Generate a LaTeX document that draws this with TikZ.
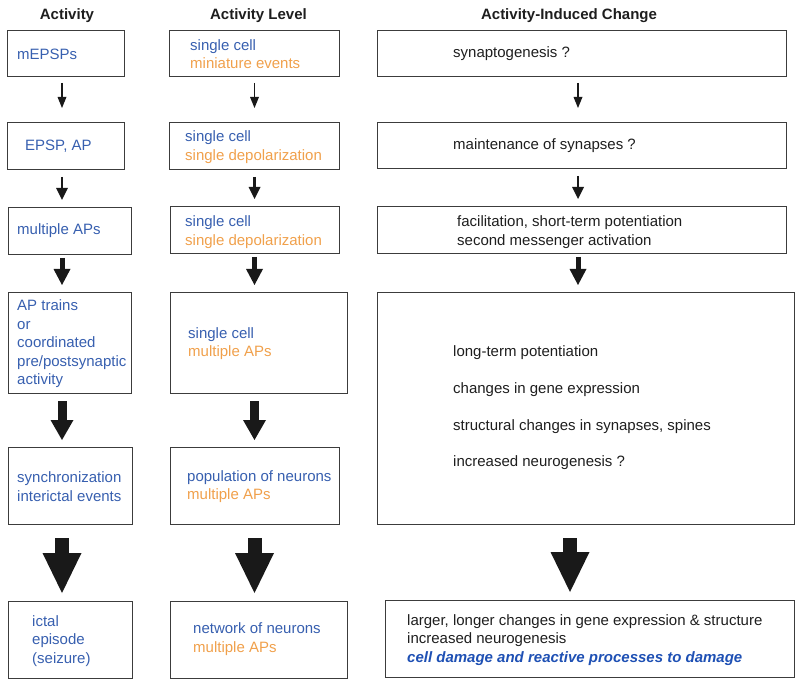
\documentclass[tikz,border=0pt]{standalone}
\usepackage{fontspec}
\setmainfont{Liberation Sans}
\usetikzlibrary{arrows.meta,calc}
\definecolor{tblue}{RGB}{55,95,175}
\definecolor{torange}{RGB}{240,160,75}
\definecolor{dblue}{RGB}{30,80,180}
\definecolor{bord}{RGB}{60,60,60}
\definecolor{ink}{RGB}{30,30,30}
\definecolor{arr}{RGB}{25,25,25}
\begin{document}
\begin{tikzpicture}[x=1pt,y=-1pt,
  box/.style={draw=bord,line width=1pt,inner sep=0pt,outer sep=0pt},
  txt/.style={anchor=west,align=left,inner sep=0pt,font=\fontsize{15}{18.5}\selectfont},
  hdr/.style={anchor=base,inner sep=0pt,font=\fontsize{15}{18}\selectfont\bfseries,text=ink},
  lvA/.style={draw=arr,line width=1.2pt,-{Triangle[width=9pt,length=11pt,line width=0pt]},shorten <=6pt,shorten >=15pt},
  lvB/.style={draw=arr,line width=2.5pt,-{Triangle[width=12pt,length=12pt,line width=0pt]},shorten <=7pt,shorten >=8pt},
  lvC/.style={draw=arr,line width=5pt,-{Triangle[width=17pt,length=16pt,line width=0pt]},shorten <=3pt,shorten >=8pt},
  lvD/.style={draw=arr,line width=9pt,-{Triangle[width=23pt,length=20pt,line width=0pt]},shorten <=8pt,shorten >=7pt},
  lvE/.style={draw=arr,line width=14pt,-{Triangle[width=39pt,length=40pt,line width=0pt]},shorten <=14pt,shorten >=8pt}
]
\useasboundingbox (0,0) rectangle (800,684);

% headers
\node[hdr] (h1) at (67,20) {Activity};
\node[hdr] (h2) at (258.5,20) {Activity Level};
\node[hdr] (h3) at (569,20) {Activity-Induced Change};

% column 1 boxes
\node[box,minimum width=117,minimum height=46] (a1) at (65.5,54) {};
\node[box,minimum width=117,minimum height=47] (a2) at (65.5,146.5) {};
\node[box,minimum width=123,minimum height=47] (a3) at (69.5,231.5) {};
\node[box,minimum width=123,minimum height=100] (a4) at (69.5,343) {};
\node[box,minimum width=124,minimum height=77] (a5) at (70,485.5) {};
\node[box,minimum width=124,minimum height=77] (a6) at (70,639.5) {};

% column 2 boxes
\node[box,minimum width=170,minimum height=46] (b1) at (254,54) {};
\node[box,minimum width=170,minimum height=47] (b2) at (254,146.5) {};
\node[box,minimum width=169,minimum height=47] (b3) at (254.5,230.5) {};
\node[box,minimum width=177,minimum height=100] (b4) at (258.5,343) {};
\node[box,minimum width=169,minimum height=77] (b5) at (254.5,485.5) {};
\node[box,minimum width=177,minimum height=77] (b6) at (258.5,639.5) {};

% column 3 boxes
\node[box,minimum width=409,minimum height=46] (c1) at (581.5,54) {};
\node[box,minimum width=409,minimum height=46] (c2) at (581.5,146) {};
\node[box,minimum width=409,minimum height=47] (c3) at (581.5,230.5) {};
\node[box,minimum width=417,minimum height=231] (c4) at (585.5,408.5) {};
\node[box,minimum width=409,minimum height=77] (c5) at (589.5,638.5) {};

% texts column 1
\node[txt,text=tblue] (ta1) at (17,54) {mEPSPs};
\node[txt,text=tblue] (ta2) at (25,146) {EPSP, AP};
\node[txt,text=tblue] (ta3) at (17,231) {multiple APs};
\node[txt,text=tblue] (ta4) at (17,344) {AP trains\\or\\coordinated\\pre/postsynaptic\\activity};
\node[txt,text=tblue] (ta5) at (17,486.5) {synchronization\\interictal events};
\node[txt,text=tblue] (ta6) at (32,641) {ictal\\episode\\(seizure)};

% texts column 2
\node[txt,text=tblue] (tb1) at (190,54) {single cell\\\textcolor{torange}{miniature events}};
\node[txt,text=tblue] (tb2) at (185,147) {single cell\\\textcolor{torange}{single depolarization}};
\node[txt,text=tblue] (tb3) at (185,232) {single cell\\\textcolor{torange}{single depolarization}};
\node[txt,text=tblue] (tb4) at (188,343.5) {single cell\\\textcolor{torange}{multiple APs}};
\node[txt,text=tblue] (tb5) at (187,486.5) {population of neurons\\\textcolor{torange}{multiple APs}};
\node[txt,text=tblue] (tb6) at (193,639) {network of neurons\\\textcolor{torange}{multiple APs}};

% texts column 3
\node[txt,text=ink] (tc1) at (453,54) {synaptogenesis ?};
\node[txt,text=ink] (tc2) at (453,146) {maintenance of synapses ?};
\node[txt,text=ink] (tc3) at (457,232) {facilitation, short-term potentiation\\second messenger activation};
\node[txt,text=ink,font=\fontsize{15}{36.7}\selectfont] (tc4) at (453,408) {long-term potentiation\\changes in gene expression\\structural changes in synapses, spines\\increased neurogenesis ?};
\node[txt,text=ink] (tc5) at (407,640) {larger, longer changes in gene expression \& structure\\increased neurogenesis\\{\color{dblue}\bfseries\itshape cell damage and reactive processes to damage}};

% arrow axes
\coordinate (x1) at (62,0);
\coordinate (x2) at (254.5,0);
\coordinate (x3) at (578,0);
\coordinate (x3b) at (570,0);

% column 1 arrows
\draw[lvA] (a1.south -| x1) -- (a2.north -| x1);
\draw[lvB] (a2.south -| x1) -- (a3.north -| x1);
\draw[lvC] (a3.south -| x1) -- (a4.north -| x1);
\draw[lvD] (a4.south -| x1) -- (a5.north -| x1);
\draw[lvE] (a5.south -| x1) -- (a6.north -| x1);

% column 2 arrows
\draw[lvA] (b1.south -| x2) -- (b2.north -| x2);
\draw[lvB] (b2.south -| x2) -- (b3.north -| x2);
\draw[lvC] (b3.south -| x2) -- (b4.north -| x2);
\draw[lvD] (b4.south -| x2) -- (b5.north -| x2);
\draw[lvE] (b5.south -| x2) -- (b6.north -| x2);

% column 3 arrows
\draw[lvA] (c1.south -| x3) -- (c2.north -| x3);
\draw[lvB] (c2.south -| x3) -- (c3.north -| x3);
\draw[lvC] (c3.south -| x3) -- (c4.north -| x3);
\draw[lvE] (c4.south -| x3b) -- (c5.north -| x3b);
\end{tikzpicture}
\end{document}
